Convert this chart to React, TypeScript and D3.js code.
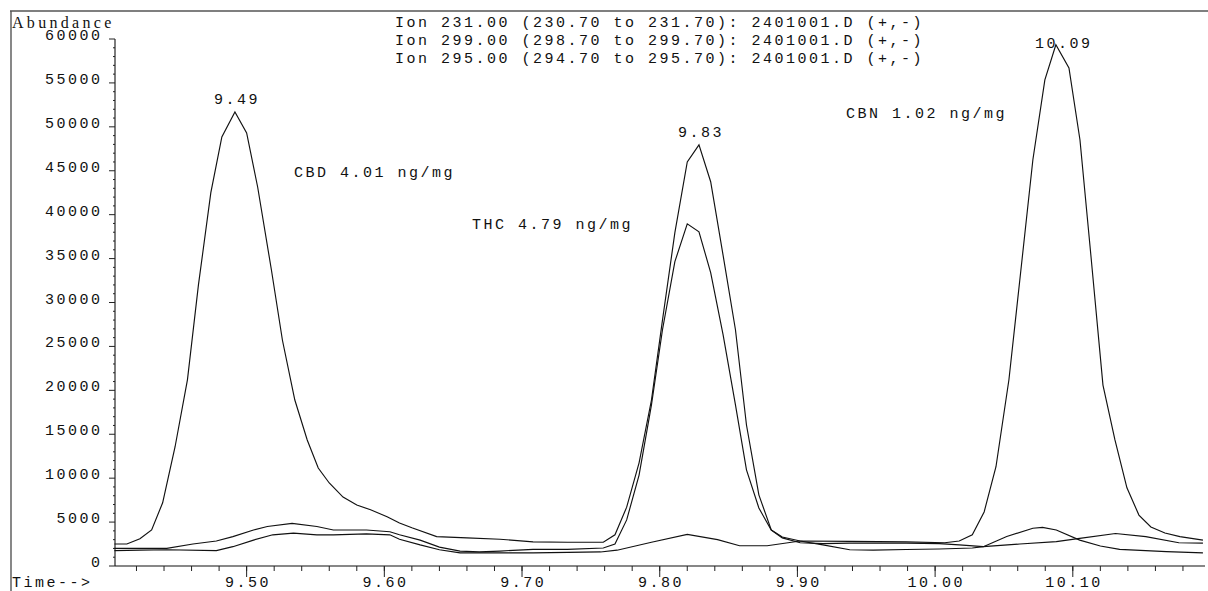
import React from 'react';
import * as d3 from 'd3';

// ion traces, [time (min), abundance]
const ion231: [number, number][] = [
  [9.404, 2500], [9.413, 2500], [9.4225, 3100], [9.431, 4100], [9.439, 7200], [9.448, 13550],
  [9.457, 21200], [9.465, 32000], [9.474, 42500], [9.482, 48850], [9.4915, 51700], [9.500, 49300],
  [9.508, 43150], [9.518, 33700], [9.526, 25700], [9.535, 18900], [9.544, 14350], [9.552, 11150],
  [9.560, 9450], [9.570, 7850], [9.580, 6950], [9.590, 6400], [9.602, 5600], [9.611, 4900],
  [9.620, 4350], [9.638, 3350], [9.660, 3200], [9.684, 3050], [9.708, 2750], [9.733, 2700],
  [9.759, 2700], [9.7675, 3550], [9.776, 6700], [9.785, 11750], [9.794, 18900], [9.802, 28000],
  [9.811, 37950], [9.820, 46000], [9.8285, 47950], [9.837, 43750], [9.846, 35400], [9.855, 26900],
  [9.863, 16050], [9.872, 8100], [9.881, 4100], [9.889, 3300], [9.902, 2850], [9.9185, 2400],
  [9.938, 1850], [9.955, 1800], [9.979, 1880], [10.003, 1940], [10.027, 2050], [10.035, 2200],
  [10.052, 3350], [10.071, 4300], [10.078, 4400], [10.088, 4100], [10.105, 2950], [10.120, 2280],
  [10.134, 1900], [10.168, 1630], [10.1945, 1500],
];

const ion299: [number, number][] = [
  [9.404, 2000], [9.4225, 2000], [9.442, 2000], [9.461, 2500], [9.478, 2850], [9.490, 3350],
  [9.505, 4100], [9.515, 4500], [9.533, 4850], [9.551, 4500], [9.563, 4100], [9.587, 4100],
  [9.604, 3900], [9.611, 3550], [9.626, 2950], [9.640, 2150], [9.655, 1700], [9.669, 1600],
  [9.684, 1700], [9.708, 1900], [9.733, 1900], [9.759, 2050], [9.7675, 2500], [9.776, 5250],
  [9.785, 10350], [9.794, 18350], [9.802, 26900], [9.811, 34650], [9.820, 38950], [9.8285, 38050],
  [9.837, 33400], [9.846, 26350], [9.855, 18350], [9.863, 10950], [9.872, 6600], [9.881, 4100],
  [9.889, 3200], [9.902, 2650], [9.9185, 2550], [9.938, 2600], [9.979, 2600], [10.003, 2550],
  [10.0175, 2400], [10.035, 2200], [10.0615, 2500], [10.088, 2770], [10.105, 3150], [10.131, 3700],
  [10.153, 3350], [10.177, 2650], [10.1945, 2600],
];

const ion295: [number, number][] = [
  [9.404, 1750], [9.4225, 1800], [9.442, 1850], [9.478, 1750], [9.490, 2200], [9.505, 2950],
  [9.519, 3550], [9.534, 3750], [9.551, 3550], [9.563, 3550], [9.587, 3650], [9.604, 3550],
  [9.611, 3050], [9.626, 2400], [9.640, 1850], [9.655, 1500], [9.684, 1500], [9.708, 1500],
  [9.733, 1550], [9.757, 1600], [9.769, 1800], [9.794, 2700], [9.820, 3600], [9.842, 3000],
  [9.858, 2300], [9.878, 2300], [9.902, 2850], [9.938, 2800], [9.979, 2750], [10.007, 2650],
  [10.0175, 2850], [10.027, 3550], [10.0356, 6150], [10.0442, 11300], [10.0536, 21200],
  [10.0623, 33700], [10.071, 46250], [10.0797, 55350], [10.0877, 59350], [10.0972, 56700],
  [10.1052, 48500], [10.1131, 35400], [10.1219, 20600], [10.1306, 14350], [10.1393, 8900],
  [10.148, 5800], [10.1567, 4450], [10.1669, 3750], [10.1778, 3350], [10.1945, 2950],
];

const ionLabels = [
  'Ion 231.00 (230.70 to 231.70): 2401001.D (+,-)',
  'Ion 299.00 (298.70 to 299.70): 2401001.D (+,-)',
  'Ion 295.00 (294.70 to 295.70): 2401001.D (+,-)',
];

// retention time labels at the apex of each peak
const peakTimes = [9.4915, 9.8285, 10.0877];
const peakHeights = [51700, 47950, 59350];
const peakLabels = ['9.49', '9.83', '10.09'];

// quantitation notes, anchored in (time, abundance)
const noteTexts = ['CBD 4.01 ng/mg', 'THC 4.79 ng/mg', 'CBN 1.02 ng/mg'];
const noteTimes = [9.5344, 9.6636, 9.9353];
const noteLevels = [44300, 38380, 51030];

const xTickLabels = ['9.50', '9.60', '9.70', '9.80', '9.90', '10.00', '10.10'];
const yTickLabels = ['0', '5000', '10000', '15000', '20000', '25000', '30000', '35000', '40000', '45000', '50000', '55000', '60000'];

const W = 1208;
const H = 591;
const mono = '"Liberation Mono", "DejaVu Sans Mono", monospace';
const LS = 2.5;

const App = () => {
  const x = d3.scaleLinear().domain([9.4044, 10.196]).range([115, 1205]);
  const y = d3.scaleLinear().domain([0, 60000]).range([566, 39]);

  const line = d3.line<[number, number]>()
    .x(d => x(d[0]))
    .y(d => y(d[1]));

  const minorX = d3.range(21, 510).map(i => i / 50).filter(t => t >= 9.42 && t <= 10.185);
  const minorY = d3.range(0, 61).map(i => i * 1000);

  const textStyle = { fontFamily: mono, fontSize: 15, letterSpacing: LS, fill: '#111' };

  return (
    <svg width={W} height={H} style={{ position: 'absolute', left: 0, top: 0, display: 'block', background: '#fff' }}>
      <rect x={0} y={0} width={W} height={H} fill="#fff" />
      {/* page frame */}
      <line x1={10} x2={W} y1={11} y2={11} stroke="#555" strokeWidth={1.4} />
      <line x1={11} x2={11} y1={11} y2={H} stroke="#555" strokeWidth={1.4} />

      <text x={12} y={28} style={{ fontFamily: '"Liberation Serif", serif', fontSize: 16, letterSpacing: 3.3, fill: '#111' }}>Abundance</text>
      <text x={12} y={587} style={textStyle}>Time--&gt;</text>

      {ionLabels.map((s, i) => (
        <text key={s} x={395} y={26.5 + i * 18} style={textStyle}>{s}</text>
      ))}

      {/* y axis */}
      <line x1={115} x2={115} y1={y(60000)} y2={566} stroke="#111" strokeWidth={1.1} />
      {minorY.map(v => (
        <line key={'my' + v} x1={v % 5000 === 0 ? 109 : 113} x2={115} y1={y(v)} y2={y(v)} stroke="#222" strokeWidth={1} />
      ))}
      {yTickLabels.map(s => (
        <text key={'yl' + s} x={100 + LS} y={y(+s) + 1} textAnchor="end" style={textStyle}>{s}</text>
      ))}

      {/* x axis */}
      <line x1={115} x2={1205} y1={566} y2={566} stroke="#111" strokeWidth={1.1} />
      {minorX.map(t => (
        <line key={'mx' + t} x1={x(t)} x2={x(t)} y1={566} y2={571} stroke="#222" strokeWidth={1} />
      ))}
      {xTickLabels.map(s => (
        <g key={'xl' + s}>
          <line x1={x(+s)} x2={x(+s)} y1={566} y2={577} stroke="#222" strokeWidth={1} />
          <text x={x(+s) + LS / 2} y={587} textAnchor="middle" style={textStyle}>{s}</text>
        </g>
      ))}

      {/* traces */}
      {[ion231, ion299, ion295].map((d, i) => (
        <path key={'trace' + i} d={line(d) || ''} fill="none" stroke="#111" strokeWidth={1.15} strokeLinejoin="miter" />
      ))}

      {peakLabels.map((s, i) => (
        <text key={'pk' + s} x={x(peakTimes[i]) - 21} y={Math.max(y(peakHeights[i]) - 8, 48)} style={textStyle}>{s}</text>
      ))}

      {noteTexts.map((s, i) => (
        <text key={'n' + i} x={x(noteTimes[i])} y={y(noteLevels[i])} style={textStyle}>{s}</text>
      ))}
    </svg>
  );
};

export default App;
